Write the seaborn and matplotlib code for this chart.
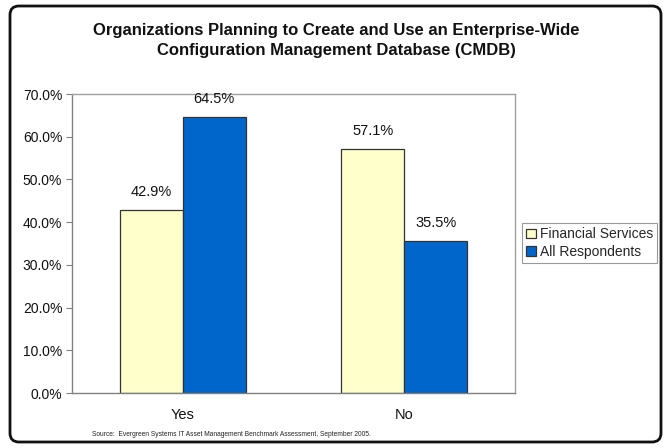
import matplotlib
matplotlib.use("Agg")
import matplotlib.pyplot as plt
import seaborn as sns
import pandas as pd
from matplotlib.patches import FancyBboxPatch
from matplotlib.transforms import IdentityTransform
from matplotlib.ticker import FuncFormatter

categories = ["Yes", "No"]
series_names = ["Financial Services", "All Respondents"]
financial = [42.9, 57.1]
all_resp = [64.5, 35.5]
colors = ["#FFFFCC", "#0066CC"]

df = pd.DataFrame({
    "cat": categories * 2,
    "series": [series_names[0]] * 2 + [series_names[1]] * 2,
    "val": financial + all_resp,
})

sns.set_style("white")
plt.rcParams["font.family"] = ["Liberation Sans", "DejaVu Sans"]

fig = plt.figure(figsize=(6.64, 4.48), dpi=100)
ax = fig.add_axes([72 / 664, 1 - 393 / 448, 443 / 664, 299 / 448])

sns.barplot(data=df, x="cat", y="val", hue="series", order=categories,
            hue_order=series_names, palette=colors, ax=ax, width=0.57,
            edgecolor="#333333", linewidth=0.9, saturation=1, legend=True)

for cont in ax.containers:
    ax.bar_label(cont, labels=[f"{v:.1f}%" for v in cont.datavalues],
                 padding=8, fontsize=10.5, color="#111111")

ax.set_ylim(0, 70)
ax.set_yticks(range(0, 71, 10))
ax.yaxis.set_major_formatter(FuncFormatter(lambda v, p: f"{v:.1f}%"))
ax.set_xlabel("")
ax.set_ylabel("")
ax.tick_params(axis="y", length=4, width=0.8, color="#808080", labelsize=10,
               pad=3, left=True)
ax.tick_params(axis="x", length=0, labelsize=10.5, pad=11)
for t in ax.get_yticklabels() + ax.get_xticklabels():
    t.set_color("#111111")
for side in ["top", "right", "bottom", "left"]:
    ax.spines[side].set_visible(True)
    ax.spines[side].set_color("#A0A0A0")
    ax.spines[side].set_linewidth(1.0)
ax.spines["left"].set_color("#808080")
ax.spines["bottom"].set_color("#808080")

leg = ax.legend(loc="center left", bbox_to_anchor=(522 / 664, 1 - 243 / 448),
                bbox_transform=fig.transFigure, fontsize=10, frameon=True,
                fancybox=False, handlelength=0.7, handleheight=0.7,
                handletextpad=0.3, borderpad=0.3, labelspacing=0.25,
                borderaxespad=0)
leg.get_frame().set_edgecolor("#808080")
leg.get_frame().set_linewidth(0.8)

fig.text(0.507, 1 - 30 / 448, "Organizations Planning to Create and Use an Enterprise-Wide",
         ha="center", va="center", fontsize=12, fontweight="bold", color="#111111")
fig.text(0.507, 1 - 50 / 448, "Configuration Management Database (CMDB)",
         ha="center", va="center", fontsize=12, fontweight="bold", color="#111111")
fig.text(231 / 664, 1 - 434 / 448,
         "Source:  Evergreen Systems IT Asset Management Benchmark Assessment, September 2005.",
         ha="center", va="center", fontsize=4.8, color="#222222")

frame = FancyBboxPatch((10, 448 - 442), 651, 436,
                       boxstyle="round,pad=0,rounding_size=9",
                       transform=IdentityTransform(), facecolor="none",
                       edgecolor="#111111", linewidth=2, zorder=10)
fig.patches.append(frame)

fig.savefig("out.png", dpi=100, facecolor="white")
